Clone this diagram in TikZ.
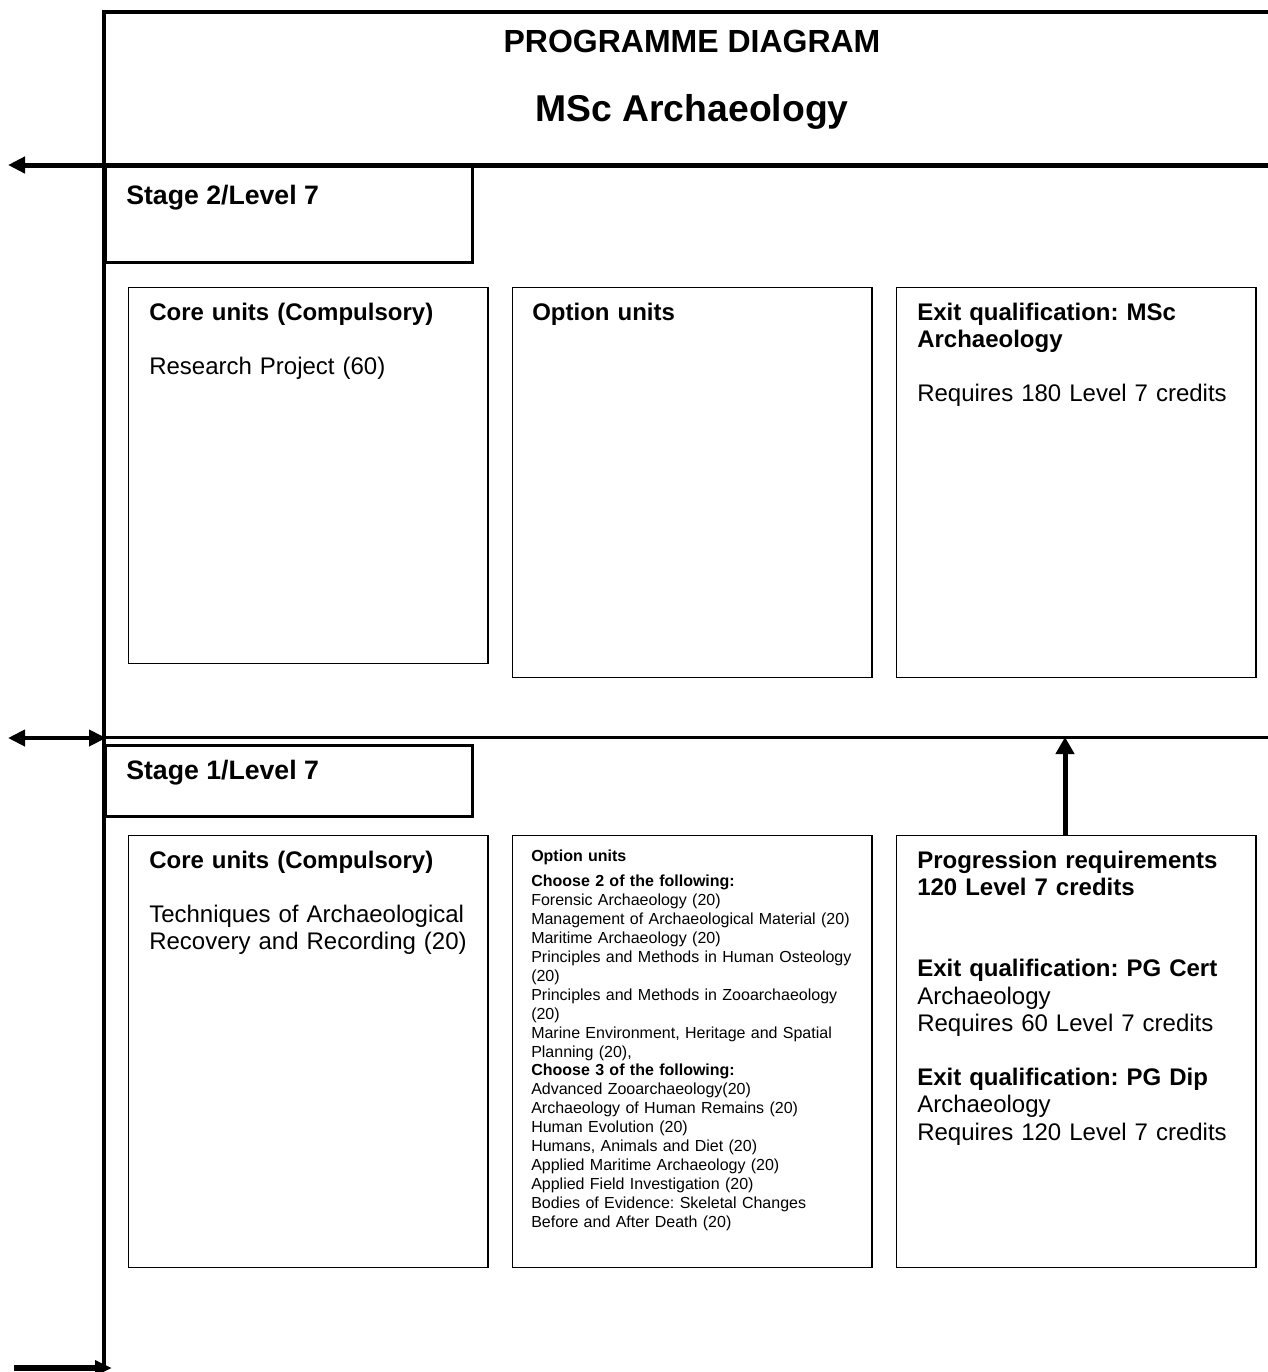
\documentclass[tikz,border=0pt]{standalone}
\usepackage{fontspec}
\setmainfont{Liberation Sans}
\usetikzlibrary{arrows.meta,calc}
\frenchspacing
\begin{document}
\begin{tikzpicture}[x=0.75pt,y=-0.75pt,
  frameline/.style={line width=3pt},
  stagebox/.style={draw, line width=2.25pt, anchor=north west, inner sep=0pt, minimum width=275.25pt},
  unitbox/.style={draw, line width=1.1pt, anchor=north west, inner sep=0pt, minimum width=269.5pt},
  bodytext/.style={anchor=base west, inner sep=0pt, align=left, text width=258pt, font=\frenchspacing\fontsize{18}{20.4}\selectfont},
  smalltext/.style={anchor=base west, inner sep=0pt, align=left, text width=258pt, font=\frenchspacing\fontsize{12}{14.175}\selectfont},
  headtext/.style={anchor=base, inner sep=0pt},
  stagetext/.style={anchor=base west, inner sep=0pt, font=\bfseries\fontsize{20}{24}\selectfont},
  hhead/.style={-{Triangle[length=12.75pt,width=12pt]}},
]
\useasboundingbox (0,0) rectangle (1268,1372);

% frame coordinates
\coordinate (tr) at (1268,12);
\coordinate (tl) at (104,12);
\coordinate (bl) at (104,1368);
\coordinate (blin) at (14,1368);
\coordinate (blout) at (112,1368);
\coordinate (r1) at (1268,165);
\coordinate (a1) at (8,165);
\coordinate (r2) at (1268,737);
\coordinate (l2) at (104,737);
\coordinate (a2l) at (8,738);
\coordinate (a2r) at (106,738);

% stage boxes
\node[stagebox, minimum height=72pt] (s2) at (104,165) {};
\node[stagebox, minimum height=53.25pt] (s1) at (104,744) {};

% unit boxes
\node[unitbox, minimum height=282pt] (s2core) at (128,287) {};
\node[unitbox, minimum height=292.5pt] (s2opt) at (512,287) {};
\node[unitbox, minimum height=292.5pt] (s2exit) at (896,287) {};
\node[unitbox, minimum height=324pt] (s1core) at (128,835) {};
\node[unitbox, minimum height=324pt] (s1opt) at (512,835) {};
\node[unitbox, minimum height=324pt] (s1prog) at (896,835) {};

% lines and arrows
\draw[frameline] (tr) -- (tl) -- (bl);
\draw[line width=4.5pt, -{Triangle[length=12.75pt,width=11pt]}] (blin) -- (blout);
\draw[line width=3.75pt, hhead] (r1) -- (a1);
\draw[line width=2.25pt] (r2) -- (l2);
\draw[line width=3pt, {Triangle[length=12.75pt,width=12pt]}-{Triangle[length=12.75pt,width=12pt]}] (a2l) -- (a2r);
\coordinate (up1) at ($(s1prog.north west)+(169,0)$);
\draw[line width=3.75pt, -{Triangle[length=12.75pt,width=13.5pt]}] (up1) -- (up1 |- r2);

% titles
\node[headtext, font=\bfseries\fontsize{24}{28}\selectfont] (title1) at (692,52) {PROGRAMME DIAGRAM};
\node[headtext, font=\bfseries\fontsize{28}{33}\selectfont] (title2) at (692,121) {MSc Archaeology};

\node[stagetext] (s2label) at (126,204) {Stage 2/Level 7};
\node[stagetext] (s1label) at (126,779) {Stage 1/Level 7};

% stage 2 texts
\node[bodytext] (s2coretext) at (149,320) {\textbf{Core units (Compulsory)}\\[20.4pt]Research Project (60)};
\node[bodytext] (s2opttext) at (532,320) {\textbf{Option units}};
\node[bodytext] (s2exittext) at (917,320) {\textbf{Exit qualification: MSc}\\\textbf{Archaeology}\\[20.4pt]Requires 180 Level 7 credits};

% stage 1 texts
\node[bodytext] (s1coretext) at (149,868) {\textbf{Core units (Compulsory)}\\[20.4pt]Techniques of Archaeological\\Recovery and Recording (20)};
\node[smalltext] (s1opttext) at (531,861) {\textbf{Option units}\\[5.3pt]\textbf{Choose 2 of the following:}\\Forensic Archaeology (20)\\Management of Archaeological Material (20)\\Maritime Archaeology (20)\\Principles and Methods in Human Osteology\\(20)\\Principles and Methods in Zooarchaeology\\(20)\\Marine Environment, Heritage and Spatial\\Planning (20),\\\textbf{Choose 3 of the following:}\\Advanced Zooarchaeology(20)\\Archaeology of Human Remains (20)\\Human Evolution (20)\\Humans, Animals and Diet (20)\\Applied Maritime Archaeology (20)\\Applied Field Investigation (20)\\Bodies of Evidence: Skeletal Changes\\Before and After Death (20)};
\node[bodytext] (s1progtext) at (917,868) {\textbf{Progression requirements}\\\textbf{120 Level 7 credits}\\[40.8pt]\textbf{Exit qualification: PG Cert}\\Archaeology\\Requires 60 Level 7 credits\\[20.4pt]\textbf{Exit qualification: PG Dip}\\Archaeology\\Requires 120 Level 7 credits};
\end{tikzpicture}
\end{document}
